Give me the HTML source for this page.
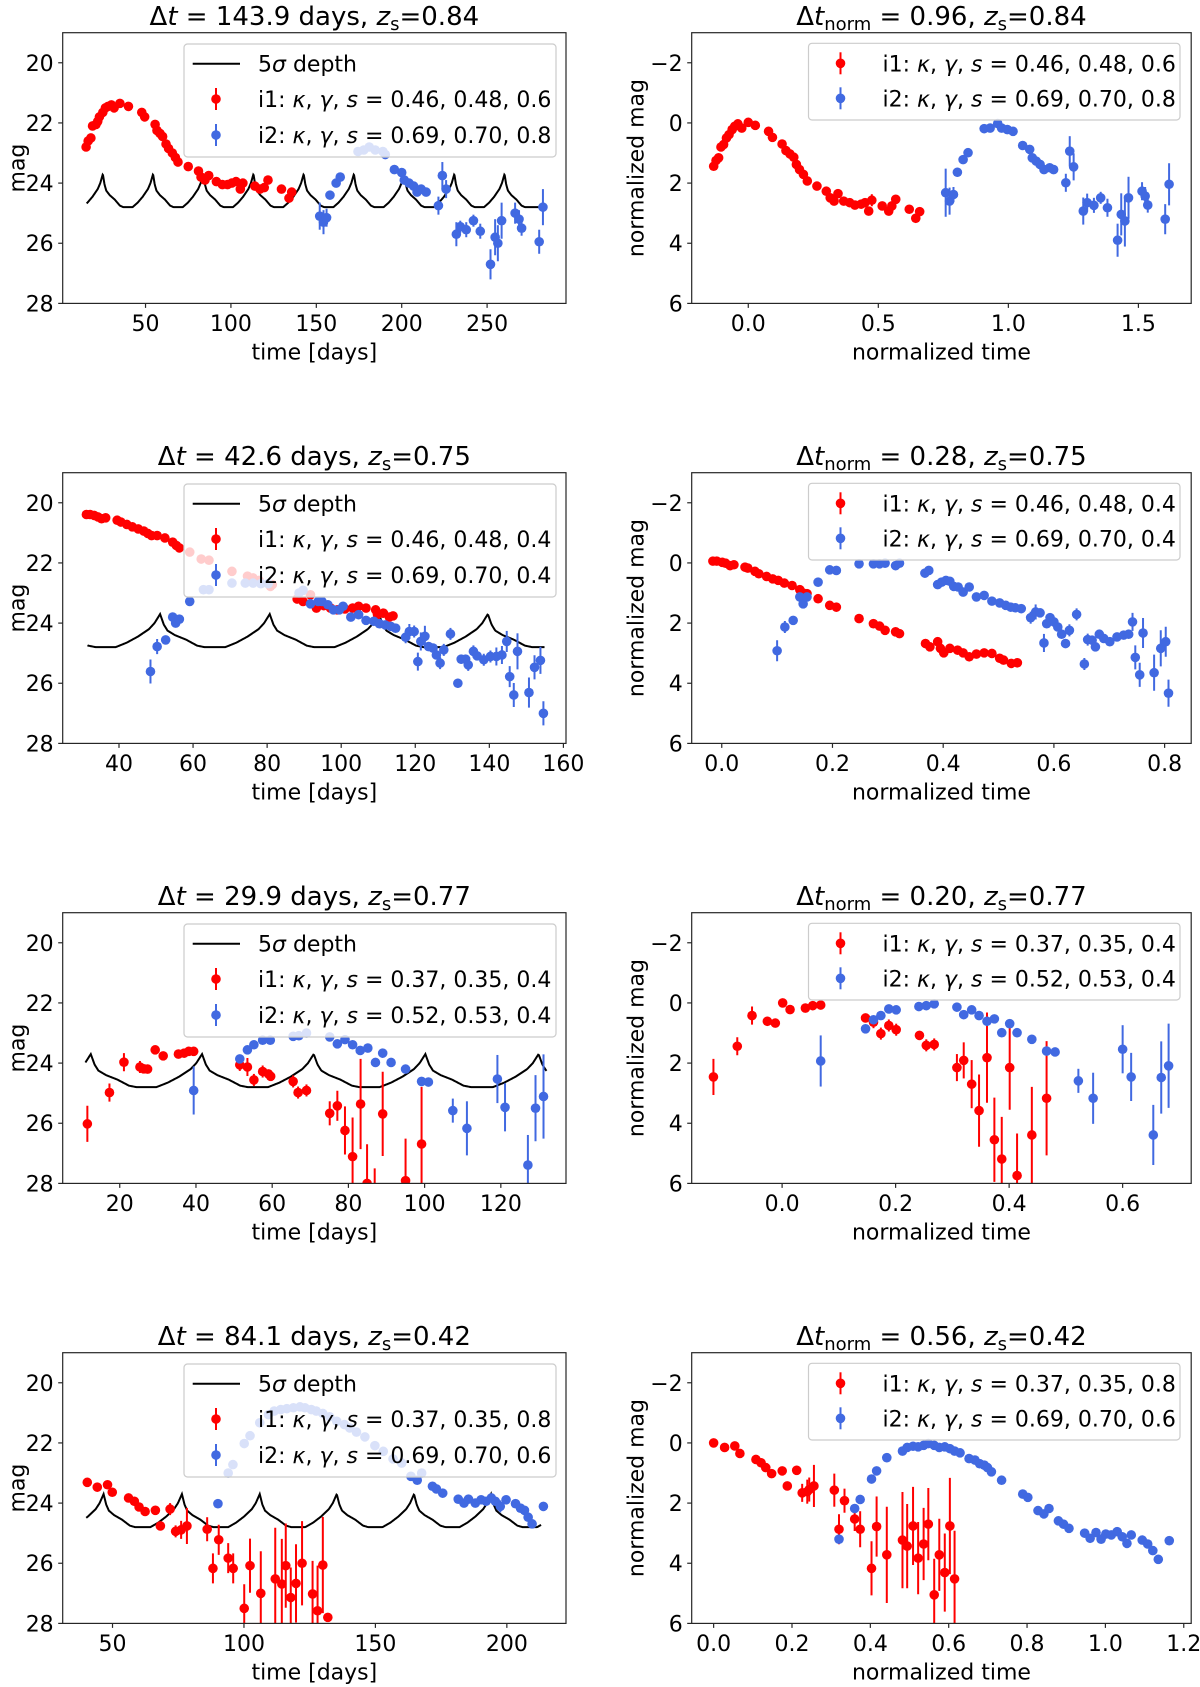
<!DOCTYPE html>
<html><head><meta charset="utf-8"><style>
html,body{margin:0;padding:0;background:#fff}
svg{display:block;font-family:"DejaVu Sans","Liberation Sans",sans-serif}
</style></head><body>
<svg id="fig" width="1200" height="1687" viewBox="0 0 1200 1687" xmlns="http://www.w3.org/2000/svg"></svg>
<script>
// ---------- data ----------
const depthProfileOffset = [-14.7,-12,-9,-6,-3,-1.5,0,1,2,4,7,10,12,14.7];
const depthProfileMag    = [24.8,24.8,24.65,24.45,24.2,24.0,23.7,24.05,24.25,24.4,24.55,24.75,24.8,24.8];

const p1Peaks = [25,54.4,83.8,113.2,142.6,172,201.4,230.8,260.2];
const p3Peaks = [21.7,51.1,80.7,110.2,139.6,169];
const p5Peaks = [12.4,41.6,70.9,100.2,129.9];
const p7Peaks = [46.6,76.4,106,135.3,164.7,194,223.5];

const p1Red = [[15.2,22.8,0],[16.4,22.6,0],[18,22.5,0],[19,22.1,0],[21,22.05,0],[22,21.95,0],[23,21.8,0],[25,21.65,0],[26.5,21.5,0],[28,21.45,0],[30,21.4,0],[31.6,21.5,0],[35,21.35,0],[40,21.45,0],[47.8,21.65,0],[49.5,21.8,0],[55.6,22.05,0],[56.7,22.25,0],[58.5,22.35,0],[60,22.45,0],[62,22.7,0],[63.5,22.85,0],[65.7,23.0,0],[67.5,23.15,0],[69,23.3,0],[75,23.45,0],[81,23.6,0],[82.5,23.8,0],[84.8,23.9,0],[87,23.75,0],[91.5,23.95,0],[95,24.05,0],[98,24.05,0],[100.5,24.0,0],[103,23.95,0.1],[105.5,24.2,0.1],[107,24.0,0.15],[114,24.1,0],[117,24.2,0],[119.5,24.15,0],[121.7,23.9,0],[129.6,24.2,0],[134,24.5,0],[135.6,24.3,0.15]];
const p1Blue = [[152,25.1,0.45],[154.2,25.3,0.4],[156,25.15,0.3],[158,24.4,0.15],[161.6,24.0,0.1],[164,23.8,0.1],[174.4,22.95,0],[177.8,22.9,0],[181,22.8,0],[184.5,22.9,0],[189,22.95,0],[190.4,23.05,0],[195.7,23.55,0],[200,23.65,0],[201.5,23.9,0],[204.3,24.0,0],[207,24.1,0],[209,24.3,0],[211.4,24.2,0],[214.3,24.3,0],[221.5,24.75,0.3],[223.8,23.75,0.45],[226,24.2,0.3],[232,25.7,0.4],[234.3,25.45,0.2],[237.8,25.55,0.25],[242,25.25,0.2],[246,25.6,0.25],[252,26.7,0.5],[254.7,25.8,0.6],[256.3,26.0,0.6],[258.5,25.25,0.6],[266.4,25.0,0.35],[268.7,25.2,0.3],[270.2,25.5,0.25],[280.5,25.95,0.4],[282.7,24.8,0.6]];

const p2Red = [[-0.133,1.44,0],[-0.124,1.25,0],[-0.114,1.16,0],[-0.105,0.8,0],[-0.095,0.72,0],[-0.084,0.5,0],[-0.074,0.39,0],[-0.062,0.22,0],[-0.052,0.11,0],[-0.04,0.03,0],[-0.025,0.17,0],[0.0,-0.02,0],[0.027,0.08,0],[0.078,0.28,0],[0.093,0.48,0],[0.13,0.7,0],[0.145,0.92,0],[0.16,1.03,0],[0.175,1.14,0],[0.185,1.38,0],[0.197,1.55,0],[0.212,1.71,0],[0.227,1.93,0],[0.264,2.1,0],[0.3,2.27,0],[0.315,2.49,0],[0.33,2.6,0],[0.345,2.35,0],[0.367,2.6,0],[0.39,2.65,0],[0.41,2.73,0],[0.434,2.7,0],[0.449,2.65,0],[0.463,2.93,0.1],[0.475,2.57,0.2],[0.515,2.76,0],[0.54,2.93,0],[0.552,2.76,0],[0.567,2.54,0],[0.619,2.87,0],[0.644,3.17,0],[0.659,2.95,0]];
const p2Blue = [[0.759,2.32,0.8],[0.774,2.6,0.45],[0.789,2.38,0.25],[0.804,1.64,0.15],[0.826,1.22,0],[0.845,0.99,0],[0.907,0.19,0],[0.93,0.17,0],[0.959,0.02,0],[0.974,0.17,0],[0.996,0.22,0],[1.018,0.28,0],[1.055,0.75,0],[1.082,0.88,0],[1.092,1.16,0],[1.107,1.27,0],[1.122,1.38,0],[1.137,1.55,0],[1.159,1.49,0],[1.174,1.55,0],[1.221,1.99,0.3],[1.236,0.94,0.5],[1.251,1.46,0.45],[1.288,2.93,0.45],[1.303,2.65,0.3],[1.329,2.74,0.25],[1.355,2.49,0.2],[1.381,2.82,0.3],[1.42,3.9,0.55],[1.434,3.04,0.7],[1.448,3.26,0.85],[1.462,2.49,0.7],[1.514,2.27,0.3],[1.526,2.43,0.3],[1.536,2.73,0.25],[1.603,3.2,0.5],[1.618,2.04,0.7]];

const p3Red = [[31.2,20.39,0],[32.2,20.39,0],[33.3,20.42,0],[34.3,20.47,0],[35.3,20.53,0],[36.4,20.5,0],[39.5,20.58,0],[40.5,20.64,0],[42.1,20.72,0],[43.6,20.8,0],[45.2,20.87,0],[46.7,20.94,0],[47.8,21.02,0],[48.8,21.09,0],[50.3,21.09,0],[52.4,21.17,0],[54.5,21.31,0],[55.5,21.42,0],[56.3,21.5,0],[59.1,21.64,0],[62.2,21.87,0],[64.3,21.91,0],[70.5,22.28,0],[74.7,22.44,0],[76.2,22.5,0],[77.8,22.58,0],[80.9,22.78,0],[81.4,22.72,0],[88.1,23.2,0],[89.7,23.28,0],[91.7,23.06,0],[93.3,23.5,0],[95.3,23.42,0],[97.1,23.5,0],[99,23.56,0],[101,23.53,0],[103.1,23.5,0],[104.7,23.44,0],[106.7,23.5,0],[109.3,23.56,0],[109.8,23.72,0],[111.4,23.67,0],[113,23.8,0],[114,23.76,0]];
const p3Blue = [[48.5,25.61,0.4],[50.3,24.78,0.25],[52.6,24.56,0.1],[54.5,23.8,0],[55.3,24.0,0],[56.3,23.87,0],[59.1,23.28,0],[62.8,22.89,0],[64.3,22.89,0],[70.5,22.67,0],[74.1,22.67,0],[76.2,22.67,0],[78.3,22.69,0],[80.3,22.69,0],[88.6,23.0,0],[89.7,22.91,0],[91.7,23.36,0],[93.8,23.28,0],[94.8,23.28,0],[96.4,23.39,0],[97.9,23.56,0],[99.5,23.56,0],[100.5,23.44,0],[102.6,23.8,0],[104.7,23.72,0],[106.7,23.91,0],[108.8,23.94,0],[110.3,24.02,0],[111.9,24.06,0],[113.4,24.11,0],[114.7,24.17,0],[117.4,24.47,0.2],[118.4,24.28,0.25],[119.7,24.28,0.2],[120.7,25.28,0.3],[121.5,24.61,0.3],[122.6,24.44,0.35],[123.6,24.78,0.1],[124.8,24.83,0.1],[125.7,25.06,0.1],[126.7,25.33,0.2],[127.7,24.89,0.2],[129.5,24.36,0.2],[131.5,26.0,0.15],[132.4,25.2,0.15],[133.6,25.2,0.1],[134.3,25.39,0.2],[135.7,24.94,0.2],[136.7,25.09,0.1],[138.5,25.22,0.2],[140.3,25.11,0.2],[141.9,25.11,0.3],[143.4,25.06,0.3],[144.7,24.61,0.35],[145.5,25.78,0.35],[146.6,26.39,0.4],[147.6,24.94,0.6],[150.7,26.31,0.5],[152.2,25.47,0.4],[153.8,25.24,0.45],[154.6,27.0,0.4]];

const p4Red = [[-0.016,-0.06,0],[-0.009,-0.06,0],[0.001,-0.02,0],[0.007,0.01,0],[0.015,0.09,0],[0.022,0.06,0],[0.042,0.14,0],[0.047,0.17,0],[0.06,0.28,0],[0.067,0.36,0],[0.081,0.45,0],[0.092,0.53,0],[0.102,0.58,0],[0.113,0.67,0],[0.127,0.75,0],[0.141,0.89,0],[0.147,1.0,0],[0.154,1.02,0],[0.174,1.19,0],[0.195,1.41,0],[0.207,1.47,0],[0.248,1.85,0],[0.274,2.02,0],[0.285,2.1,0],[0.295,2.24,0],[0.314,2.29,0],[0.321,2.35,0],[0.368,2.68,0],[0.376,2.79,0],[0.39,2.62,0],[0.395,2.84,0],[0.401,2.99,0],[0.412,2.84,0],[0.426,2.9,0],[0.436,2.99,0],[0.447,3.12,0],[0.46,3.03,0],[0.474,2.99,0],[0.488,3.01,0],[0.502,3.17,0],[0.509,3.23,0],[0.523,3.34,0],[0.534,3.32,0]];
const p4Blue = [[0.1,2.92,0.35],[0.114,2.13,0.2],[0.129,1.91,0.1],[0.141,1.13,0],[0.147,1.36,0],[0.154,1.13,0],[0.174,0.64,0],[0.195,0.23,0],[0.207,0.25,0],[0.248,0.03,0],[0.274,0.03,0],[0.285,0.03,0],[0.295,0.01,0],[0.314,0.09,0],[0.321,0.01,0],[0.367,0.34,0],[0.374,0.25,0],[0.39,0.72,0],[0.397,0.64,0],[0.405,0.58,0],[0.412,0.61,0],[0.419,0.78,0],[0.427,0.8,0],[0.436,0.97,0],[0.447,0.8,0],[0.46,1.13,0],[0.474,1.08,0],[0.488,1.27,0],[0.502,1.33,0],[0.513,1.41,0],[0.522,1.47,0],[0.53,1.49,0],[0.541,1.52,0],[0.558,1.82,0.2],[0.567,1.63,0.25],[0.575,1.66,0.1],[0.582,2.66,0.3],[0.587,2.02,0.1],[0.593,1.82,0.1],[0.6,1.96,0.1],[0.607,2.13,0.1],[0.614,2.37,0.1],[0.621,2.68,0.1],[0.628,2.24,0.2],[0.641,1.71,0.2],[0.655,3.36,0.2],[0.661,2.55,0.2],[0.669,2.57,0.1],[0.675,2.79,0.1],[0.682,2.37,0.1],[0.69,2.51,0.1],[0.701,2.62,0.1],[0.714,2.46,0.1],[0.726,2.4,0.1],[0.735,2.37,0.1],[0.742,1.96,0.3],[0.747,3.14,0.4],[0.755,3.72,0.4],[0.761,2.33,0.5],[0.781,3.65,0.6],[0.793,2.84,0.6],[0.802,2.62,0.5],[0.807,4.33,0.45]];

const p5Red = [[11.5,26.02,0.6],[17.3,24.98,0.3],[21.1,23.97,0.3],[25.3,24.13,0.2],[26.3,24.19,0.1],[27.3,24.2,0.1],[29.3,23.56,0.1],[31.4,23.76,0.1],[35.4,23.7,0.1],[36.9,23.67,0],[38.1,23.61,0],[39.4,23.61,0],[51.5,24.06,0.2],[53.5,24.13,0.3],[55.2,24.56,0.2],[57.5,24.28,0.2],[59,24.36,0.1],[59.6,24.44,0.1],[65.5,24.61,0.2],[66.8,24.98,0.2],[69,24.91,0.2],[75.1,25.67,0.4],[77.1,25.42,0.5],[79.1,26.24,0.8],[81.1,27.11,1.3],[83.2,25.36,1.5],[84.9,28.0,1.3],[86.9,28.2,0.7],[89,25.69,1.4],[91.2,28.3,0.3],[95,27.91,1.4],[99.2,26.69,1.9]];
const p5Blue = [[39.4,24.91,0.8],[51.5,23.86,0],[53.5,23.56,0],[55.2,23.39,0],[57.5,23.24,0],[59.5,23.24,0],[65.5,23.11,0],[67,23.09,0],[69,23.0,0],[75.1,23.13,0],[77.1,23.36,0],[79.1,23.22,0],[81.1,23.39,0],[83.1,23.58,0],[85.1,23.5,0],[87.1,23.98,0],[89,23.67,0],[91.2,23.98,0],[95,24.2,0],[99.2,24.61,0],[101,24.63,0],[107.4,25.58,0.4],[111.1,26.17,0.9],[119.1,24.53,0.8],[121.1,25.47,0.8],[127.1,27.39,1.0],[129.1,25.5,1.1],[131.2,25.11,1.4]];

const p6Red = [[-0.121,2.46,0.6],[-0.079,1.44,0.3],[-0.053,0.42,0.3],[-0.026,0.61,0.15],[-0.012,0.67,0.1],[0.001,0.0,0],[0.014,0.22,0],[0.041,0.17,0],[0.054,0.09,0],[0.068,0.07,0],[0.147,0.5,0.1],[0.161,0.64,0.2],[0.174,1.02,0.2],[0.188,0.75,0.2],[0.201,0.89,0.2],[0.242,1.08,0.15],[0.254,1.41,0.2],[0.268,1.38,0.2],[0.308,2.15,0.45],[0.32,1.91,0.6],[0.334,2.7,0.8],[0.347,3.58,1.2],[0.361,1.82,1.5],[0.374,4.55,1.4],[0.387,5.19,1.4],[0.401,2.15,1.4],[0.414,5.74,1.4],[0.44,4.39,1.6],[0.466,3.17,1.9]];
const p6Blue = [[0.068,1.93,0.85],[0.147,0.86,0],[0.161,0.56,0],[0.174,0.42,0],[0.188,0.2,0],[0.201,0.23,0],[0.241,0.12,0],[0.254,0.09,0],[0.268,0.03,0],[0.308,0.14,0],[0.32,0.39,0],[0.334,0.23,0],[0.347,0.42,0],[0.361,0.61,0],[0.374,0.53,0],[0.387,0.99,0],[0.401,0.69,0],[0.414,0.99,0],[0.44,1.21,0],[0.466,1.6,0],[0.481,1.63,0],[0.522,2.59,0.4],[0.548,3.17,0.85],[0.6,1.54,0.8],[0.615,2.46,0.8],[0.654,4.39,1.0],[0.668,2.48,1.2],[0.681,2.09,1.4]];

const p7Red = [[40.4,23.31,0],[44.2,23.47,0],[48.1,23.39,0],[49.9,23.64,0],[56.1,23.83,0],[58.3,23.94,0],[60.1,24.13,0],[62.4,24.28,0],[66.3,24.24,0],[68.2,24.76,0],[71.9,24.2,0.2],[74,24.94,0.2],[76.1,24.89,0.3],[78.3,24.76,0.6],[86,24.87,0.4],[88.2,26.17,0.5],[90.4,25.22,0.5],[94,25.83,0.5],[95.9,26.17,0.5],[100.1,27.5,0.8],[102.3,26.08,0.9],[106.4,27.0,1.4],[111.9,26.52,1.7],[114.4,26.69,1.5],[115.9,26.08,1.4],[117.8,27.14,1.0],[119.8,26.67,1.3],[122.1,26.0,1.4],[126.1,27.02,1.1],[128,27.58,1.5],[130,26.06,1.6],[131.9,27.8,0.1]];
const p7Blue = [[90.1,24.02,0],[94,23.0,0],[95.8,22.72,0],[100.1,22.02,0],[102.3,21.76,0],[106,21.33,0],[109.3,21.06,0],[111.5,20.94,0],[114,20.89,0],[116.3,20.86,0],[118.8,20.83,0],[121.3,20.8,0],[123.2,20.83,0],[125.6,20.89,0],[127.5,20.94,0],[130,21.02,0],[132.6,21.13,0],[135.3,21.28,0],[138.2,21.39,0],[140.2,21.5,0],[142.8,21.64,0],[146,21.8,0],[149.8,22.09,0],[153,22.28,0],[156.7,22.53,0],[160,22.67,0],[163.5,23.11,0],[165.9,23.24,0],[167.6,23.0,0],[171.7,23.44,0],[173.2,23.53,0],[175.6,23.67,0],[181.5,23.87,0],[183.7,24.0,0],[185.4,23.87,0],[188,24.0,0],[190.2,23.89,0],[192.1,23.94,0],[194.1,23.83,0],[195.6,23.94,0],[197.5,24.11,0.2],[199.7,23.89,0],[203.3,24.02,0],[205.2,24.17,0],[206.7,24.24,0],[208.1,24.47,0],[209.6,24.69,0],[213.9,24.11,0]];

const p8Red = [[0,0,0],[0.028,0.15,0],[0.054,0.1,0],[0.067,0.35,0],[0.108,0.55,0],[0.121,0.66,0],[0.133,0.82,0],[0.148,1.02,0],[0.175,0.93,0],[0.188,1.43,0],[0.212,0.91,0.15],[0.226,1.66,0.3],[0.239,1.62,0.4],[0.244,1.55,0.4],[0.256,1.43,0.7],[0.308,1.57,0.55],[0.32,2.87,0.5],[0.334,1.92,0.4],[0.36,2.53,0.4],[0.374,2.87,0.6],[0.403,4.17,0.9],[0.416,2.78,1.0],[0.442,3.72,1.6],[0.482,3.23,1.6],[0.494,3.43,1.4],[0.509,2.76,1.3],[0.522,3.83,1.2],[0.536,3.36,1.2],[0.548,2.7,1.2],[0.563,5.05,1.2],[0.576,3.72,1.2],[0.59,4.31,1.3],[0.603,2.76,1.6],[0.615,4.52,1.6]];
const p8Blue = [[0.32,3.2,0],[0.36,2.18,0],[0.374,1.88,0],[0.403,1.2,0],[0.416,0.93,0],[0.442,0.49,0],[0.482,0.27,0],[0.494,0.15,0],[0.509,0.11,0],[0.522,0.13,0],[0.536,0.08,0],[0.548,0.02,0],[0.563,0.08,0],[0.576,0.15,0],[0.59,0.13,0],[0.603,0.19,0],[0.615,0.27,0],[0.629,0.33,0],[0.652,0.52,0],[0.667,0.57,0],[0.679,0.69,0],[0.691,0.74,0],[0.699,0.82,0],[0.709,0.96,0],[0.735,1.24,0],[0.789,1.7,0],[0.802,1.81,0],[0.828,2.25,0],[0.843,2.36,0],[0.856,2.18,0],[0.88,2.59,0],[0.893,2.7,0],[0.907,2.84,0],[0.947,3.0,0],[0.961,3.17,0],[0.976,2.98,0],[0.989,3.2,0],[1.001,3.03,0],[1.015,3.06,0],[1.03,2.95,0],[1.043,3.12,0],[1.055,3.34,0.15],[1.066,3.06,0],[1.094,3.23,0],[1.108,3.36,0],[1.121,3.58,0],[1.135,3.87,0],[1.163,3.25,0]];

const ticksLeftY = ["20","22","24","26","28"];
const ticksRightY = ["−2","0","2","4","6"];
const p1XTicks = ["50","100","150","200","250"];
const p2XTicks = ["0.0","0.5","1.0","1.5"];
const p3XTicks = ["40","60","80","100","120","140","160"];
const p4XTicks = ["0.0","0.2","0.4","0.6","0.8"];
const p5XTicks = ["20","40","60","80","100","120"];
const p6XTicks = ["0.0","0.2","0.4","0.6"];
const p7XTicks = ["50","100","150","200"];
const p8XTicks = ["0.0","0.2","0.4","0.6","0.8","1.0","1.2"];

const legendLeft = [["i1","0.46, 0.48, 0.6","0.69, 0.70, 0.8"],["i1","0.46, 0.48, 0.4","0.69, 0.70, 0.4"],["i1","0.37, 0.35, 0.4","0.52, 0.53, 0.4"],["i1","0.37, 0.35, 0.8","0.69, 0.70, 0.6"]];
const titleDt = ["143.9","42.6","29.9","84.1"];
const titleDtNorm = ["0.96","0.28","0.20","0.56"];
const titleZs = ["0.84","0.75","0.77","0.42"];

// ---------- rendering ----------
const NS = "http://www.w3.org/2000/svg";
const svg = document.getElementById("fig");
function mk(tag, attrs, parent){ const e=document.createElementNS(NS,tag); for(const k in attrs) e.setAttribute(k,attrs[k]); (parent||svg).appendChild(e); return e; }

const RED="#ff0000", BLUE="#4169e1";
const rowTop=[32.7,472.7,912.7,1352.7], H=270.7;
const colX=[[62.7,566],[691.7,1191.2]];
const FS=22, MR=4.8;

function depthAt(t, peaks){
  let best=peaks[0]; for(const p of peaks) if(Math.abs(t-p)<Math.abs(t-best)) best=p;
  let o=t-best; const n=depthProfileOffset.length;
  if(o<=depthProfileOffset[0]) return depthProfileMag[0];
  if(o>=depthProfileOffset[n-1]) return depthProfileMag[n-1];
  for(let i=0;i<n-1;i++){ const a=depthProfileOffset[i], b=depthProfileOffset[i+1];
    if(o>=a&&o<=b){ const f=(o-a)/(b-a); return depthProfileMag[i]+f*(depthProfileMag[i+1]-depthProfileMag[i]); } }
  return 24.8;
}

function mathLabel(g, x, y, parts, size, anchor){
  const t=mk("text",{x:x,y:y,"font-size":size,"text-anchor":anchor||"start",fill:"#000"},g);
  for(const p of parts){ const s=mk("tspan",p.a||{},t); s.textContent=p.s; }
  return t;
}

function panel(idx, row, col, xlim, ylim, xticks, yticks, series, depth, leg, titleParts, xlabel, ylabel){
  const [x0,x1]=colX[col], y0=rowTop[row], y1=y0+H;
  const g=mk("g",{});
  
  
  const sx=v=>x0+(v-xlim[0])/(xlim[1]-xlim[0])*(x1-x0);
  const sy=v=>y0+(v-ylim[0])/(ylim[1]-ylim[0])*(y1-y0);
  const cid="clip"+idx;
  const cp=mk("clipPath",{id:cid},g); mk("rect",{x:x0,y:y0,width:x1-x0,height:H},cp);
  const plot=mk("g",{"clip-path":"url(#"+cid+")"},g);
  
  
  if(depth){
    let d=""; for(let t=depth.range[0]; t<=depth.range[1]+1e-6; t+=0.2){ d+=(d?"L":"M")+sx(t).toFixed(2)+","+sy(depthAt(t,depth.peaks)).toFixed(2); }
    const pl=mk("path",{d:d,fill:"none",stroke:"#000","stroke-width":2},plot);
    
    
  }
  series.forEach(s=>{
    const sg=mk("g",{},plot);
    
    
    for(const [t,m,e] of s.data){
      if(e>0){ const ln=mk("line",{x1:sx(t),x2:sx(t),y1:sy(m-e),y2:sy(m+e),stroke:s.color,"stroke-width":2},sg);
        
         }
      const c=mk("circle",{cx:sx(t),cy:sy(m),r:MR,fill:s.color},sg);
      
      
    }
  });
  const fr=mk("rect",{x:x0,y:y0,width:x1-x0,height:H,fill:"none",stroke:"#262626","stroke-width":1.2},g);
  
  
  yticks.forEach(lbl=>{
    const v=parseFloat(lbl.replace("−","-")), y=sy(v);
    mk("line",{x1:x0-4.5,x2:x0,y1:y,y2:y,stroke:"#262626","stroke-width":1.2},g);
    const tx=mk("text",{x:x0-9,y:y+8,"font-size":FS,"text-anchor":"end",fill:"#000"},g);
    tx.textContent=lbl;
    
    
  });
  xticks.forEach(lbl=>{
    const v=parseFloat(lbl), x=sx(v);
    mk("line",{x1:x,x2:x,y1:y1,y2:y1+4.5,stroke:"#262626","stroke-width":1.2},g);
    const tx=mk("text",{x:x,y:y1+27.5,"font-size":FS,"text-anchor":"middle",fill:"#000"},g);
    tx.textContent=lbl;
    
    
  });
  const xl=mk("text",{x:(x0+x1)/2,y:y1+56,"font-size":FS,"text-anchor":"middle",fill:"#000"},g);
  xl.textContent=xlabel;
  
  
  const ycx = col===0 ? 17 : 636;
  const yl=mk("text",{x:ycx,y:(y0+y1)/2,"font-size":FS,"text-anchor":"middle",fill:"#000",transform:"rotate(-90 "+ycx+" "+(y0+y1)/2+")",dy:"7.5"},g);
  yl.textContent=ylabel;
  
  
  const tt=mathLabel(g,(x0+x1)/2,y0-7.5,titleParts,26,"middle");
  
  
  const lg=mk("g",{},g);
  
  
  const withDepth=!!depth;
  const bx = col===0 ? x0+121.3 : x0+116.8;
  const by = y0+(withDepth?11.3:10.6);
  const bh = withDepth?113:76.7;
  mk("rect",{x:bx,y:by,width:col===0?372:371.5,height:bh,rx:3.5,fill:"#fff","fill-opacity":0.8,stroke:"#cccccc","stroke-width":1.2},lg);
  let rows=[];
  if(withDepth) rows.push({kind:"line",y:by+19.7});
  rows.push({kind:"pt",color:RED,y:by+(withDepth?55:20),lab:"i1",vals:leg[1]});
  rows.push({kind:"pt",color:BLUE,y:by+(withDepth?91:55),lab:"i2",vals:leg[2]});
  rows.forEach(r=>{
    const e=mk("g",{},lg);
    
    
    if(r.kind==="line"){
      mk("line",{x1:bx+8.7,x2:bx+56,y1:r.y,y2:r.y,stroke:"#000","stroke-width":2},e);
      mathLabel(e,bx+74,r.y+8,[{s:"5"},{s:"σ",a:{"font-style":"italic"}},{s:" depth"}],FS);
    } else {
      const mx = bx+32;
      mk("line",{x1:mx,x2:mx,y1:r.y-11,y2:r.y+11,stroke:r.color,"stroke-width":2},e);
      mk("circle",{cx:mx,cy:r.y,r:MR,fill:r.color},e);
      mathLabel(e,bx+74,r.y+8,[{s:r.lab+": "},{s:"κ",a:{"font-style":"italic"}},{s:", "},{s:"γ",a:{"font-style":"italic"}},{s:", "},{s:"s",a:{"font-style":"italic"}},{s:" = "+r.vals}],FS);
    }
  });
}

function titleL(i){ return [{s:"Δ"},{s:"t",a:{"font-style":"italic"}},{s:" = "+titleDt[i]+" days, "},{s:"z",a:{"font-style":"italic"}},{s:"s",a:{"font-size":18,dy:"5"}},{s:"="+titleZs[i],a:{dy:"-5"}}]; }
function titleR(i){ return [{s:"Δ"},{s:"t",a:{"font-style":"italic"}},{s:"norm",a:{"font-size":18,dy:"5"}},{s:" = "+titleDtNorm[i]+", ",a:{dy:"-5"}},{s:"z",a:{"font-style":"italic"}},{s:"s",a:{"font-size":18,dy:"5"}},{s:"="+titleZs[i],a:{dy:"-5"}}]; }

const LY=[19,28], RY=[-3,6];
panel(0,0,0,[1.5,296.2],LY,p1XTicks,ticksLeftY,[{name:"i1-series",color:RED,data:p1Red},{name:"i2-series",color:BLUE,data:p1Blue}],{peaks:p1Peaks,range:[15.5,283]},legendLeft[0],titleL(0),"time [days]","mag");
panel(1,0,1,[-0.2175,1.703],RY,p2XTicks,ticksRightY,[{name:"i1-series",color:RED,data:p2Red},{name:"i2-series",color:BLUE,data:p2Blue}],null,legendLeft[0],titleR(0),"normalized time","normalized mag");
panel(2,1,0,[24.8,160.7],LY,p3XTicks,ticksLeftY,[{name:"i1-series",color:RED,data:p3Red},{name:"i2-series",color:BLUE,data:p3Blue}],{peaks:p3Peaks,range:[31.5,155]},legendLeft[1],titleL(1),"time [days]","mag");
panel(3,1,1,[-0.0543,0.848],RY,p4XTicks,ticksRightY,[{name:"i1-series",color:RED,data:p4Red},{name:"i2-series",color:BLUE,data:p4Blue}],null,legendLeft[1],titleR(1),"normalized time","normalized mag");
panel(4,2,0,[5.03,137.1],LY,p5XTicks,ticksLeftY,[{name:"i1-series",color:RED,data:p5Red},{name:"i2-series",color:BLUE,data:p5Blue}],{peaks:p5Peaks,range:[11,132]},legendLeft[2],titleL(2),"time [days]","mag");
panel(5,2,1,[-0.1593,0.7208],RY,p6XTicks,ticksRightY,[{name:"i1-series",color:RED,data:p6Red},{name:"i2-series",color:BLUE,data:p6Blue}],null,legendLeft[2],titleR(2),"normalized time","normalized mag");
panel(6,3,0,[31.05,222.5],LY,p7XTicks,ticksLeftY,[{name:"i1-series",color:RED,data:p7Red},{name:"i2-series",color:BLUE,data:p7Blue}],{peaks:p7Peaks,range:[40,213]},legendLeft[3],titleL(3),"time [days]","mag");
panel(7,3,1,[-0.056,1.219],RY,p8XTicks,ticksRightY,[{name:"i1-series",color:RED,data:p8Red},{name:"i2-series",color:BLUE,data:p8Blue}],null,legendLeft[3],titleR(3),"normalized time","normalized mag");
</script>
</body></html>
